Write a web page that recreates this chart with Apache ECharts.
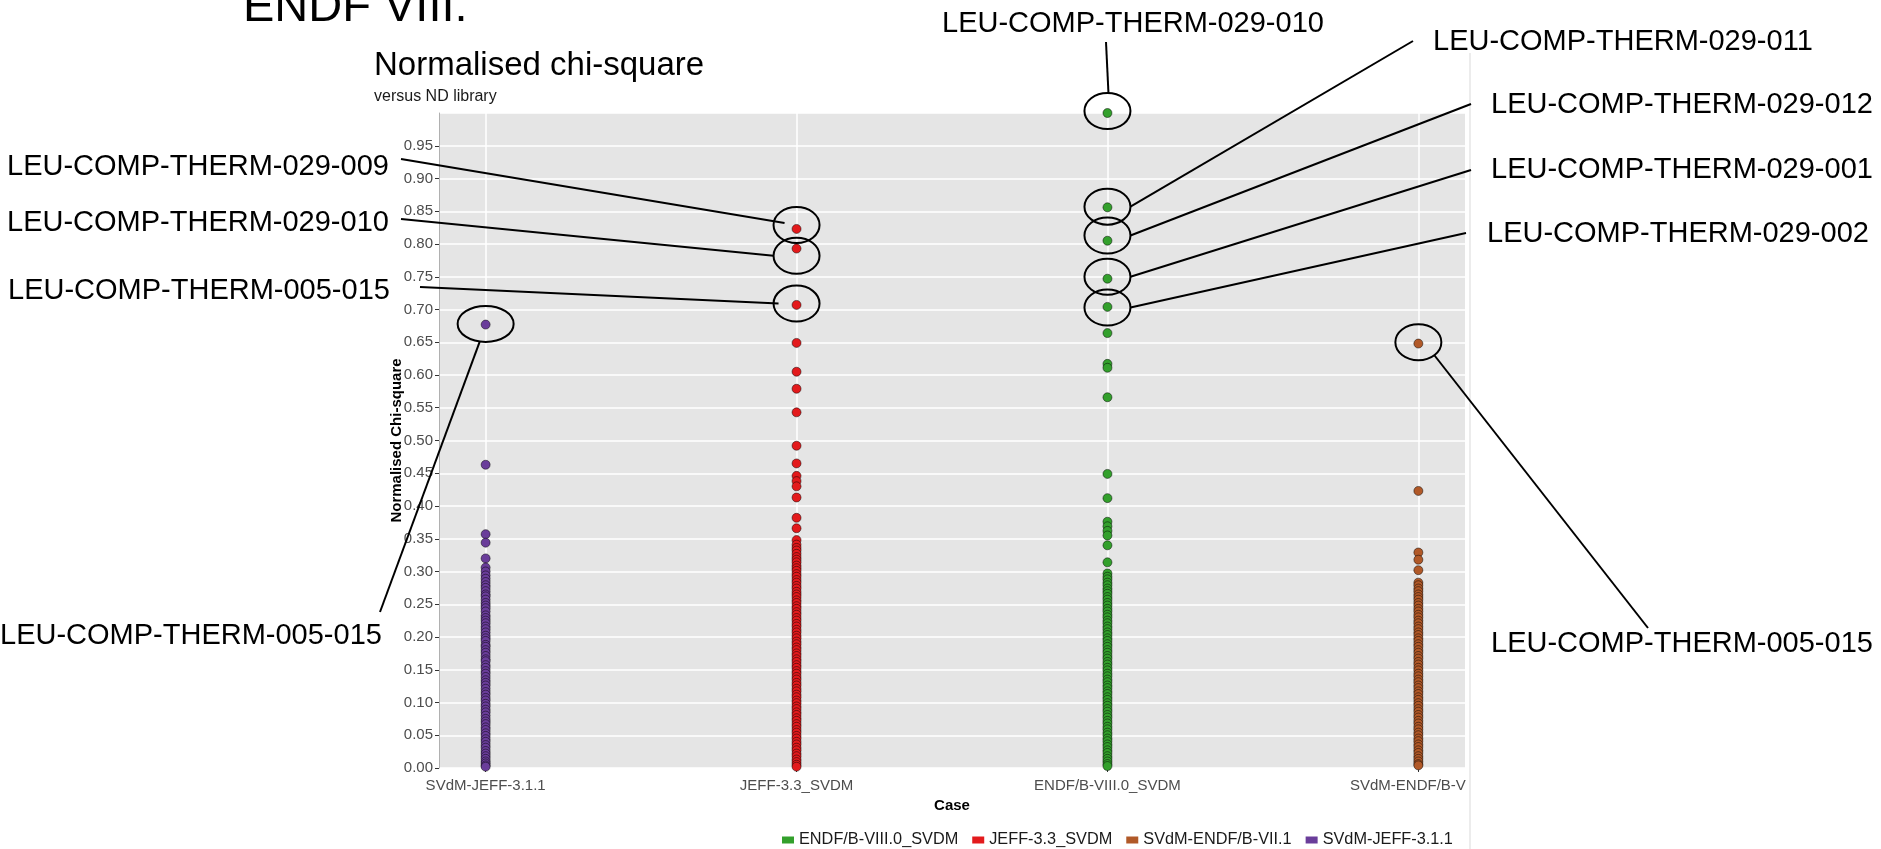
<!DOCTYPE html>
<html><head><meta charset="utf-8">
<script src="https://cdn.jsdelivr.net/npm/echarts@6/dist/echarts.min.js"></script>
<style>html,body{margin:0;padding:0;background:#fff}#c{width:1881px;height:849px}</style>
</head><body><div id="c"></div>
<script>
// ---- data ----
const categories = ['SVdM-JEFF-3.1.1', 'JEFF-3.3_SVDM', 'ENDF/B-VIII.0_SVDM', 'SVdM-ENDF/B-VII.1'];
const legendOrder = ['ENDF/B-VIII.0_SVDM', 'JEFF-3.3_SVDM', 'SVdM-ENDF/B-VII.1', 'SVdM-JEFF-3.1.1'];
const seriesColors = ['#6A3D9A', '#E31A1C', '#33A02C', '#B15928'];

const valsJEFF311 = [0.677, 0.463, 0.357, 0.344, 0.320, 0.306, 0.300, 0.294, 0.289,
  0.284, 0.279, 0.275, 0.270, 0.265, 0.262, 0.257, 0.252, 0.248, 0.244, 0.239, 0.233, 0.229, 0.225,
  0.221, 0.216, 0.212, 0.207, 0.202, 0.198, 0.194, 0.188, 0.185, 0.180, 0.176, 0.171, 0.166, 0.163,
  0.157, 0.153, 0.148, 0.144, 0.139, 0.134, 0.130, 0.126, 0.121, 0.116, 0.112, 0.107, 0.103, 0.098,
  0.094, 0.089, 0.085, 0.080, 0.075, 0.071, 0.067, 0.062, 0.058, 0.053, 0.049, 0.044, 0.040, 0.035,
  0.031, 0.026, 0.022, 0.018, 0.014, 0.010, 0.007, 0.004, 0.002];
const valsJEFF33 = [0.823, 0.793, 0.707, 0.649, 0.605, 0.579, 0.543, 0.492, 0.465, 0.446, 0.438,
  0.430, 0.413, 0.382, 0.366, 0.348, 0.341, 0.336, 0.332, 0.327, 0.322, 0.318, 0.314, 0.309, 0.305,
  0.301, 0.296, 0.292, 0.287, 0.283, 0.278, 0.274, 0.269, 0.265, 0.261, 0.256, 0.252, 0.247, 0.243,
  0.238, 0.234, 0.229, 0.225, 0.220, 0.216, 0.211, 0.207, 0.202, 0.198, 0.193, 0.189, 0.184, 0.180,
  0.175, 0.171, 0.166, 0.162, 0.157, 0.153, 0.148, 0.144, 0.139, 0.135, 0.130, 0.126, 0.121, 0.117,
  0.112, 0.108, 0.103, 0.099, 0.094, 0.090, 0.085, 0.081, 0.076, 0.072, 0.067, 0.063, 0.058, 0.054,
  0.049, 0.045, 0.040, 0.036, 0.031, 0.027, 0.022, 0.018, 0.013, 0.009, 0.005, 0.002];
const valsENDF80 = [1.000, 0.856, 0.805, 0.747, 0.704, 0.664, 0.617, 0.611, 0.566, 0.449, 0.412,
  0.376, 0.369, 0.362, 0.355, 0.340, 0.314, 0.297, 0.292, 0.288, 0.283, 0.279, 0.274, 0.270, 0.266,
  0.261, 0.257, 0.252, 0.248, 0.243, 0.239, 0.234, 0.230, 0.225, 0.221, 0.216, 0.212, 0.207, 0.203,
  0.198, 0.194, 0.189, 0.185, 0.180, 0.176, 0.171, 0.167, 0.162, 0.158, 0.153, 0.149, 0.144, 0.140,
  0.135, 0.131, 0.126, 0.122, 0.117, 0.113, 0.108, 0.104, 0.099, 0.095, 0.090, 0.086, 0.081, 0.077,
  0.072, 0.068, 0.063, 0.059, 0.054, 0.050, 0.045, 0.041, 0.036, 0.032, 0.027, 0.023, 0.018, 0.014,
  0.010, 0.006, 0.003];
const valsENDF71 = [0.648, 0.423, 0.329, 0.318, 0.302, 0.283, 0.279, 0.274, 0.270, 0.265, 0.261,
  0.257, 0.252, 0.248, 0.243, 0.239, 0.234, 0.230, 0.225, 0.221, 0.216, 0.212, 0.207, 0.203, 0.198,
  0.194, 0.189, 0.185, 0.180, 0.176, 0.171, 0.167, 0.162, 0.158, 0.153, 0.149, 0.144, 0.140, 0.135,
  0.131, 0.126, 0.122, 0.117, 0.113, 0.108, 0.104, 0.099, 0.095, 0.090, 0.086, 0.081, 0.077, 0.072,
  0.068, 0.063, 0.059, 0.054, 0.050, 0.045, 0.041, 0.036, 0.032, 0.027, 0.023, 0.018, 0.014, 0.010,
  0.006, 0.004];
const seriesValues = [valsJEFF311, valsJEFF33, valsENDF80, valsENDF71];

// annotations: circled case names (category index 1..4, value at ellipse centre)
const annotations = [
  {text: 'LEU-COMP-THERM-029-009', cat: 2, value: 0.829, tx: 7, ty: 167, ax: 401, ay: 159, dx: -12, dy: -2},
  {text: 'LEU-COMP-THERM-029-010', cat: 2, value: 0.782, tx: 7, ty: 223, ax: 401, ay: 219, dx: -23, dy: 0},
  {text: 'LEU-COMP-THERM-005-015', cat: 2, value: 0.709, tx: 8, ty: 291, ax: 420, ay: 287, dx: -18, dy: 0},
  {text: 'LEU-COMP-THERM-005-015', cat: 1, value: 0.678, tx: 0, ty: 636, ax: 380, ay: 612, dx: -6, dy: 18, rx: 28},
  {text: 'LEU-COMP-THERM-029-010', cat: 3, value: 1.003, tx: 942, ty: 24, ax: 1106, ay: 42, dx: 1, dy: -18},
  {text: 'LEU-COMP-THERM-029-011', cat: 3, value: 0.857, tx: 1433, ty: 42, ax: 1413, ay: 41, dx: 23, dy: 0},
  {text: 'LEU-COMP-THERM-029-012', cat: 3, value: 0.813, tx: 1491, ty: 105, ax: 1471, ay: 104, dx: 23, dy: 0},
  {text: 'LEU-COMP-THERM-029-001', cat: 3, value: 0.750, tx: 1491, ty: 170, ax: 1471, ay: 170, dx: 23, dy: 0},
  {text: 'LEU-COMP-THERM-029-002', cat: 3, value: 0.703, tx: 1487, ty: 234, ax: 1466, ay: 233, dx: 23, dy: 0},
  {text: 'LEU-COMP-THERM-005-015', cat: 4, value: 0.650, tx: 1491, ty: 644, ax: 1648, ay: 628, dx: 16, dy: 13}
];

const FONT = '"Liberation Sans", Arial, Helvetica, sans-serif';
const chart = echarts.init(document.getElementById('c'));

const series = categories.map((name, i) => ({
  name: name,
  type: 'scatter',
  clip: false,
  symbolSize: 9,
  itemStyle: {color: seriesColors[i], borderColor: 'rgba(0,0,0,0.6)', borderWidth: 0.8, opacity: 1},
  data: seriesValues[i].map(v => [i + 1, v]),
  z: 3
}));

chart.setOption({
  animation: false,
  backgroundColor: '#ffffff',
  title: [
    {text: 'Normalised chi-square', left: 374, top: 49, padding: 0,
     textStyle: {fontFamily: FONT, fontSize: 33, fontWeight: 'normal', color: '#000'}},
    {text: 'versus ND library', left: 374, top: 89, padding: 0,
     textStyle: {fontFamily: FONT, fontSize: 16, fontWeight: 'normal', color: '#1a1a1a'}}
  ],
  grid: {left: 439, top: 113, width: 1026, height: 655, show: true, backgroundColor: '#E5E5E5', borderWidth: 0},
  xAxis: {
    type: 'value', min: 0.85, max: 4.15,
    name: 'Case', nameLocation: 'middle', nameGap: 29,
    nameTextStyle: {fontFamily: FONT, fontSize: 15, fontWeight: 'bold', color: '#000'},
    axisLine: {show: false},
    axisTick: {show: true, length: 4, lineStyle: {color: '#333'}, customValues: [1, 2, 3, 4]},
    axisLabel: {customValues: [1, 2, 3, 4], margin: 10, fontFamily: FONT, fontSize: 15, color: '#4D4D4D',
      formatter: v => categories[Math.round(v) - 1] || ''},
    splitLine: {show: true, lineStyle: {color: '#FFFFFF', width: 1.5}}
  },
  yAxis: {
    type: 'value', min: 0, max: 1, interval: 0.05,
    name: 'Normalised Chi-square', nameLocation: 'middle', nameGap: 35, nameMoveOverlap: false,
    nameTextStyle: {fontFamily: FONT, fontSize: 15, fontWeight: 'bold', color: '#000'},
    axisLine: {show: true, lineStyle: {color: '#B0B0B0', width: 1}},
    axisTick: {show: true, length: 4, lineStyle: {color: '#333'}},
    axisLabel: {margin: 6, fontFamily: FONT, fontSize: 15, color: '#4D4D4D', showMaxLabel: false,
      formatter: v => (v >= 0.999 ? '' : v.toFixed(2))},
    splitLine: {show: true, lineStyle: {color: '#FFFFFF', width: 1.5}}
  },
  legend: {
    data: legendOrder, left: 782, top: 832, padding: 0, icon: 'rect', itemWidth: 12, itemHeight: 7, itemGap: 14,
    itemStyle: {borderWidth: 0},
    textStyle: {fontFamily: FONT, fontSize: 16.3, color: '#1a1a1a'}
  },
  series: series
});

// annotation layer, positioned from the chart's own scales
const graphics = [
  {type: 'text', x: 243, y: 8, z: 100,
   style: {text: 'ENDF VIII.', font: '47px ' + FONT, fill: '#000', align: 'left', verticalAlign: 'middle'}},
  {type: 'rect', shape: {x: 1467, y: 770, width: 414, height: 24}, style: {fill: '#fff'}, z: 50},
  {type: 'line', shape: {x1: 1470, y1: 53, x2: 1470, y2: 849}, style: {stroke: '#E6E6E6', lineWidth: 1.5}, z: 51}
];
annotations.forEach(a => {
  const p = chart.convertToPixel({gridIndex: 0}, [a.cat, a.value]);
  const rx = a.rx || 23, ry = 18;
  graphics.push({type: 'ellipse', z: 100, shape: {cx: p[0], cy: p[1], rx: rx, ry: ry},
    style: {fill: 'none', stroke: '#000', lineWidth: 2}});
  graphics.push({type: 'line', z: 100, shape: {x1: p[0] + a.dx, y1: p[1] + a.dy, x2: a.ax, y2: a.ay},
    style: {stroke: '#000', lineWidth: 2}});
  graphics.push({type: 'text', z: 100, x: a.tx, y: a.ty,
    style: {text: a.text, font: '29px ' + FONT, fill: '#000', align: 'left', verticalAlign: 'middle'}});
});
chart.setOption({graphic: graphics});
</script>
</body></html>
